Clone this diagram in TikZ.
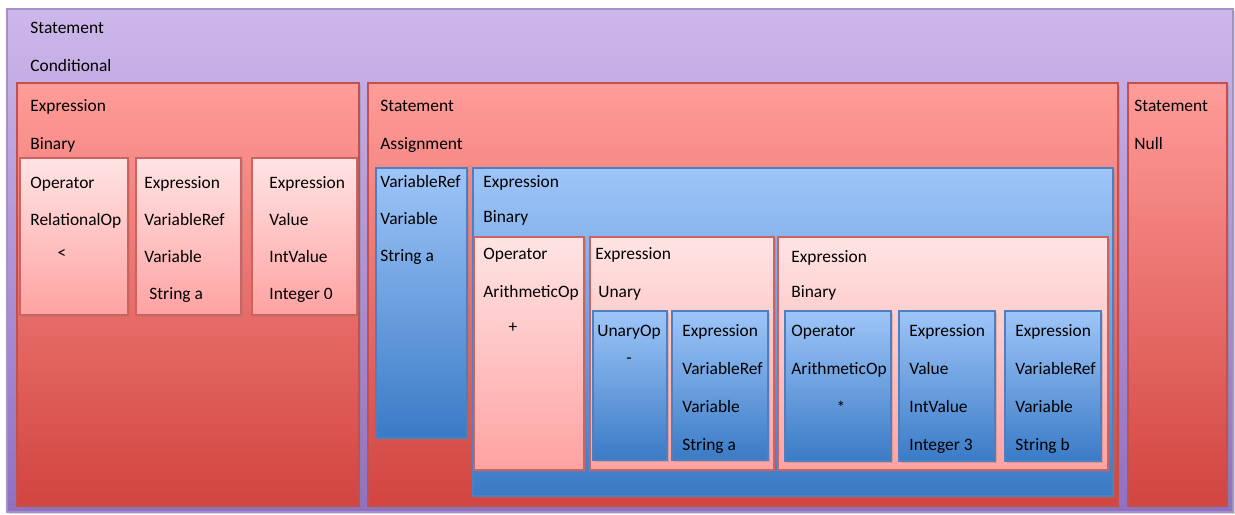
\documentclass[tikz,border=0pt]{standalone}
\usepackage{fontspec}
\setmainfont{Carlito}
\usetikzlibrary{positioning, fit, shadows}

\definecolor{purpleTop}{HTML}{CDB7EA}
\definecolor{purpleBot}{HTML}{9070C0}
\definecolor{purpleEdge}{HTML}{A590CC}
\definecolor{redTop}{HTML}{FF9C99}
\definecolor{redBot}{HTML}{D2443F}
\definecolor{redEdge}{HTML}{C4504C}
\definecolor{pinkTop}{HTML}{FFE4E4}
\definecolor{pinkBot}{HTML}{FFA2A2}
\definecolor{pinkEdge}{HTML}{CC6360}
\definecolor{blueTop}{HTML}{9EC5F8}
\definecolor{blueBot}{HTML}{3A7BC6}
\definecolor{blueEdge}{HTML}{4F7FBF}

\begin{document}
\begin{tikzpicture}[
    x=0.5pt, y=-0.5pt,
    box/.style={draw, inner sep=0pt, line width=0.6pt,
                drop shadow={shadow xshift=0.8pt, shadow yshift=-0.8pt,
                             opacity=0.3}},
    purplebox/.style={box, draw=purpleEdge, top color=purpleTop, bottom color=purpleBot},
    redbox/.style={box, draw=redEdge, top color=redTop, bottom color=redBot},
    pinkbox/.style={box, draw=pinkEdge, top color=pinkTop, bottom color=pinkBot},
    bluebox/.style={box, draw=blueEdge, top color=blueTop, bottom color=blueBot},
    % texts are placed at the baseline of their last line
    txt/.style={anchor=base west, align=left, inner sep=0pt,
                font=\fontsize{8.7}{19}\selectfont},
    tight/.style={txt, font=\fontsize{8.7}{18.5}\selectfont},
    sym/.style={inner sep=0pt, font=\fontsize{8.7}{19}\selectfont}
]
\useasboundingbox (0,0) rectangle (1235,514);
\fill[white] (0,0) rectangle (1235,514);

% Statement / Conditional
\node[purplebox, fit={(7,9) (1233,512)}] (stmtCond) {};
\node[txt] (stmtCondText) at (30,71) {Statement\\Conditional};

% condition: Expression / Binary
\node[redbox, fit={(17,83) (359,506)}] (condExpr) {};
\node[txt] (condExprText) at (30,149) {Expression\\Binary};
\node[pinkbox, fit={(20,158) (128,315)}] (condOp) {};
\node[tight] (condOpText) at (30,225) {Operator\\RelationalOp};
\node[sym] (condOpSym) at (62,254) {<};
\node[pinkbox, fit={(136,158) (241,315)}] (condLeft) {};
\node[tight] (condLeftText) at (144,299)
    {Expression\\VariableRef\\Variable\\\hspace{2.5pt}String a};
\node[pinkbox, fit={(252,158) (357,315)}] (condRight) {};
\node[tight] (condRightText) at (269,299)
    {Expression\\Value\\IntValue\\Integer 0};

% then: Statement / Assignment
\node[redbox, fit={(368,83) (1118,506)}] (stmtAssign) {};
\node[txt] (stmtAssignText) at (380,149) {Statement\\Assignment};
\node[bluebox, fit={(376,168) (467,438)}] (assignTarget) {};
\node[tight] (assignTargetText) at (380,261) {VariableRef\\Variable\\String a};
\node[bluebox, fit={(473,168) (1113,496)}] (assignExpr) {};
\node[txt, font=\fontsize{8.7}{17.5}\selectfont] (assignExprText) at (483,222)
    {Expression\\Binary};

% Operator +
\node[pinkbox, fit={(474,237) (584,470)}] (addOp) {};
\node[txt] (addOpText) at (483,297) {Operator\\ArithmeticOp};
\node[sym] (addOpSym) at (513,328) {+};

% Expression / Unary
\node[pinkbox, fit={(590,237) (774,470)}] (unaryExpr) {};
\node[txt] (unaryExprText) at (595,297) {Expression\\\hspace{1.5pt}Unary};
\node[bluebox, fit={(593,311) (667,460)}] (unaryOp) {};
\node[txt] (unaryOpText) at (597,336) {UnaryOp};
\node[sym] (unaryOpSym) at (629,361) {-};
\node[bluebox, fit={(672,311) (768,460)}] (unaryArg) {};
\node[txt] (unaryArgText) at (682,450)
    {Expression\\VariableRef\\Variable\\String a};

% Expression / Binary
\node[pinkbox, fit={(778,237) (1108,470)}] (mulExpr) {};
\node[txt, font=\fontsize{8.7}{17.5}\selectfont] (mulExprText) at (791,297)
    {Expression\\Binary};
\node[bluebox, fit={(785,311) (891,461)}] (mulOp) {};
\node[txt] (mulOpText) at (791,374) {Operator\\ArithmeticOp};
\node[sym] (mulOpSym) at (841,407) {*};
\node[bluebox, fit={(899,311) (995,461)}] (mulLeft) {};
\node[txt] (mulLeftText) at (909,450)
    {Expression\\Value\\IntValue\\Integer 3};
\node[bluebox, fit={(1005,311) (1101,461)}] (mulRight) {};
\node[txt] (mulRightText) at (1015,450)
    {Expression\\VariableRef\\Variable\\String b};

% else: Statement / Null
\node[redbox, fit={(1128,83) (1227,506)}] (stmtNull) {};
\node[txt] (stmtNullText) at (1134,149) {Statement\\Null};

\end{tikzpicture}
\end{document}
